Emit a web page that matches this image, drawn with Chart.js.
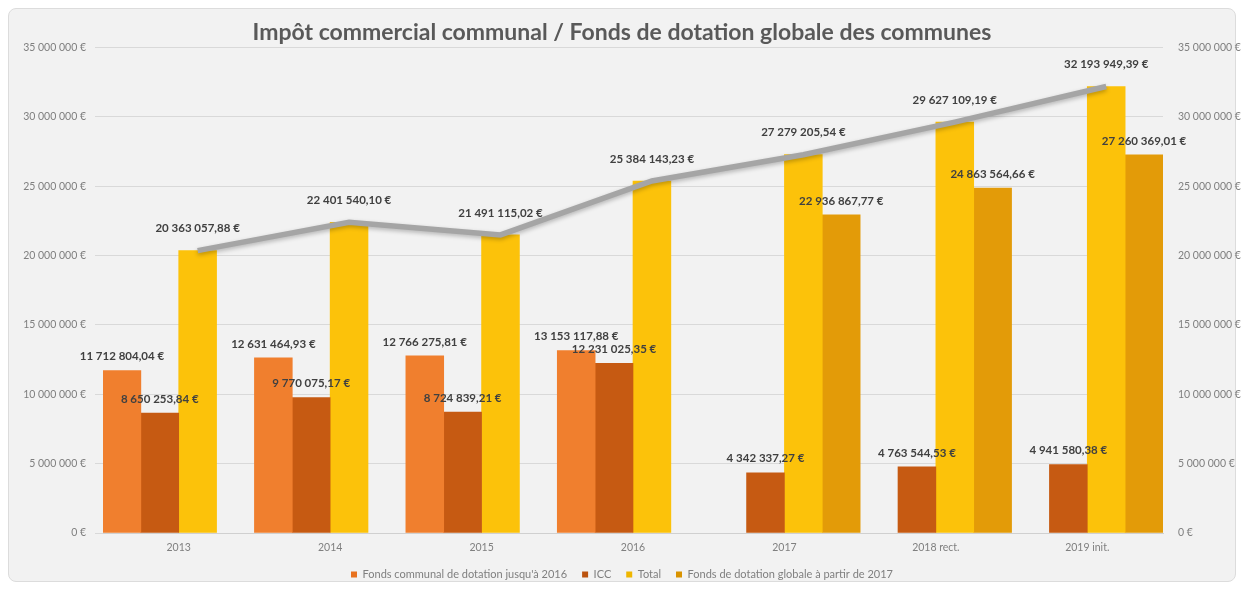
<!DOCTYPE html>
<html>
<head>
<meta charset="utf-8">
<script src="https://cdn.jsdelivr.net/npm/chart.js@4"></script>
<style>
    html, body { margin: 0; padding: 0; background: #ffffff; }
    #wrap { position: relative; width: 1244px; height: 590px; }
    #panel {
        position: absolute; left: 8px; top: 8px; width: 1226px; height: 572px;
        background: #f2f2f2; border: 1px solid #dcdcdc; border-radius: 8px;
    }
    #chart { position: absolute; left: 0; top: 0; }
</style>
</head>
<body>
<div id="wrap">
    <div id="panel"></div>
    <canvas id="chart" width="1244" height="590"></canvas>
</div>
<script>
// Impôt commercial communal / Fonds de dotation globale des communes

const years = ['2013', '2014', '2015', '2016', '2017', '2018 rect.', '2019 init.'];

const fondsCommunal = [11712804.04, 12631464.93, 12766275.81, 13153117.88, null, null, null];
const icc = [8650253.84, 9770075.17, 8724839.21, 12231025.35, 4342337.27, 4763544.53, 4941580.38];
const total = [20363057.88, 22401540.10, 21491115.02, 25384143.23, 27279205.54, 29627109.19, 32193949.39];
const fondsGlobal = [null, null, null, null, 22936867.77, 24863564.66, 27260369.01];

const yTicks = [0, 5000000, 10000000, 15000000, 20000000, 25000000, 30000000, 35000000];

const FONT = 'Lato, "Open Sans", sans-serif';

// French money format: 11 712 804,04 €
function euro(v, decimals) {
    const parts = v.toFixed(decimals).split('.');
    const intPart = parts[0].replace(/\B(?=(\d{3})+(?!\d))/g, ' ');
    return decimals ? intPart + ',' + parts[1] + ' €' : intPart + ' €';
}

// horizontal shading so the bars look a bit rounded, like the Excel original
function shaded(light, base, dark) {
    return ctx => {
        const el = ctx.element;
        if (!el || !isFinite(el.x) || !isFinite(el.width)) return base;
        const x0 = el.x - el.width / 2;
        const g = ctx.chart.ctx.createLinearGradient(x0, 0, x0 + el.width, 0);
        g.addColorStop(0, light);
        g.addColorStop(0.45, base);
        g.addColorStop(1, dark);
        return g;
    };
}

// in the original the total line sits over the centre of the Total bar,
// i.e. one eighth of a category to the right of the category centre
function lineShift(chart) {
    const xs = chart.scales.x;
    return (xs.getPixelForValue(1) - xs.getPixelForValue(0)) / 8;
}

// draws the value labels above bars and line points
const valueLabels = {
    id: 'valueLabels',
    afterDatasetsDraw(chart) {
        const ctx = chart.ctx;
        ctx.save();
        ctx.font = 'bold 11.5px ' + FONT;
        ctx.fillStyle = '#404040';
        ctx.textAlign = 'center';
        ctx.textBaseline = 'middle';
        chart.data.datasets.forEach((ds, di) => {
            if (!ds.showLabels) return;
            const meta = chart.getDatasetMeta(di);
            const isLine = ds.type === 'line';
            const dx = isLine ? lineShift(chart) : 0;
            meta.data.forEach((el, i) => {
                const v = ds.data[i];
                if (v == null) return;
                ctx.fillText(euro(v, 2), el.x + dx, el.y - (isLine ? 22 : 14));
            });
        });
        ctx.restore();
    }
};

// shifts the total line onto the Total bars and gives it a soft shadow
const lineStyle = {
    id: 'lineStyle',
    beforeDatasetDraw(chart, args) {
        if (args.meta.type !== 'line') return;
        const ctx = chart.ctx;
        ctx.save();
        ctx.translate(lineShift(chart), 0);
        ctx.shadowColor = 'rgba(0,0,0,0.25)';
        ctx.shadowBlur = 4;
        ctx.shadowOffsetY = 2;
    },
    afterDatasetDraw(chart, args) {
        if (args.meta.type !== 'line') return;
        chart.ctx.restore();
    }
};

const barOpts = { barPercentage: 1, categoryPercentage: 1, borderWidth: 0, order: 1 };

new Chart(document.getElementById('chart'), {
    type: 'bar',
    data: {
        labels: years,
        datasets: [
            Object.assign({
                label: 'Fonds communal de dotation jusqu\'à 2016',
                data: fondsCommunal,
                backgroundColor: shaded('#f59a55', '#f07f2e', '#e8721f'),
                showLabels: true
            }, barOpts),
            Object.assign({
                label: 'ICC',
                data: icc,
                backgroundColor: shaded('#d0661c', '#c65a12', '#bb530e'),
                showLabels: true
            }, barOpts),
            Object.assign({
                label: 'Total',
                data: total,
                backgroundColor: shaded('#ffd040', '#fcc20a', '#efb600')
            }, barOpts),
            Object.assign({
                label: 'Fonds de dotation globale à partir de 2017',
                data: fondsGlobal,
                backgroundColor: shaded('#eaa524', '#e39b08', '#d99300'),
                showLabels: true
            }, barOpts),
            {
                type: 'line',
                label: 'Total (ligne)',
                data: total,
                borderColor: '#a5a5a5',
                borderWidth: 5.5,
                pointRadius: 0,
                tension: 0,
                showLabels: true,
                order: 0
            }
        ]
    },
    options: {
        responsive: false,
        animation: false,
        layout: { padding: { top: 0, bottom: 0, left: 0, right: 0 } },
        scales: {
            x: {
                grid: { display: false, drawTicks: false, tickLength: 0 },
                border: { color: '#d0d0d0' },
                afterFit: s => { s.height = 21; },
                ticks: { color: '#7f7f7f', font: { family: FONT, size: 10.5 }, padding: 8 }
            },
            y: {
                position: 'left',
                min: 0,
                max: 35000000,
                afterBuildTicks: s => { s.ticks = yTicks.map(v => ({ value: v })); },
                afterFit: s => { s.width = 103; },
                grid: { color: '#d9d9d9' },
                border: { display: false },
                ticks: {
                    color: '#7f7f7f', padding: 9,
                    font: { family: FONT, size: 10.5 },
                    callback: v => euro(v, 0)
                }
            },
            y2: {
                position: 'right',
                min: 0,
                max: 35000000,
                afterBuildTicks: s => { s.ticks = yTicks.map(v => ({ value: v })); },
                afterFit: s => { s.width = 81; },
                grid: { display: false },
                border: { display: false },
                ticks: {
                    color: '#7f7f7f', padding: 7,
                    font: { family: FONT, size: 10.5 },
                    callback: v => euro(v, 0)
                }
            }
        },
        plugins: {
            title: {
                display: true,
                text: 'Impôt commercial communal / Fonds de dotation globale des communes',
                color: '#595959',
                font: { family: FONT, size: 23, weight: 'bold' },
                padding: { top: 19, bottom: 1 }
            },
            legend: {
                position: 'bottom',
                labels: {
                    color: '#7f7f7f',
                    font: { family: FONT, size: 11 },
                    boxWidth: 6,
                    boxHeight: 6,
                    padding: 15,
                    filter: item => item.datasetIndex < 4
                }
            },
            tooltip: { enabled: false }
        }
    },
    plugins: [lineStyle, valueLabels]
});
</script>
</body>
</html>
